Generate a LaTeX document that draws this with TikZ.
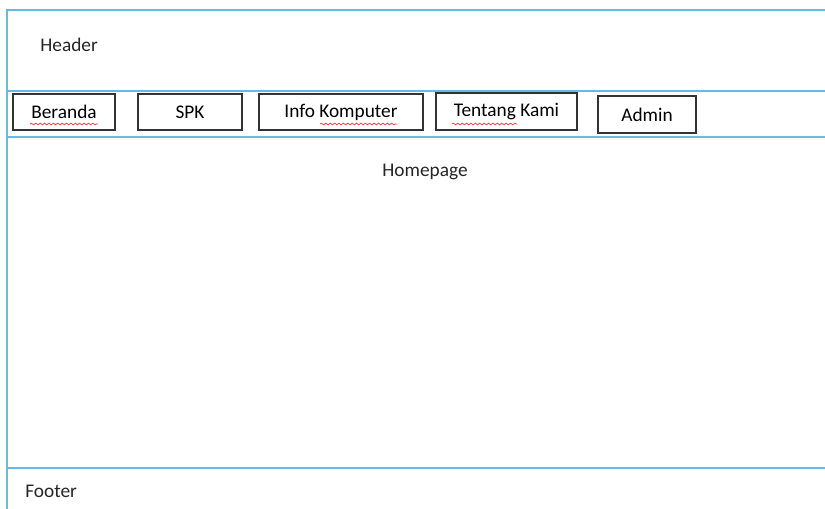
\documentclass[tikz,border=0pt]{standalone}
\usepackage{fontspec}
\setmainfont{Carlito}
\usepackage{tikz}
\usetikzlibrary{positioning, decorations.pathmorphing}

\definecolor{ruleblue}{RGB}{105,185,230}

\begin{document}
\begin{tikzpicture}[
    x=0.02cm, y=-0.02cm,
    frame/.style={draw=ruleblue, line width=0.6pt},
    navbox/.style={rectangle, draw=black!80, line width=0.9pt, minimum height=0.72cm, inner sep=0pt, font=\fontsize{11}{13}\selectfont},
    label/.style={font=\fontsize{11}{13}\selectfont, text=black!85, inner sep=0pt},
    squiggle/.style={draw=red!80, line width=0.4pt, decorate, decoration={snake, amplitude=0.5pt, segment length=2.5pt}}
]
\useasboundingbox[fill=white] (0,0) rectangle (825,509);

% page frame
\coordinate (tl) at (7,10);
\coordinate (bl) at (7,509);
\draw[frame] (825,10) -- (tl) -- (bl);
\draw[frame] (7,91) -- (825,91);
\draw[frame] (7,137) -- (825,137);
\draw[frame] (7,468) -- (825,468);

% header and menu
\node[label, anchor=west] (header) at (40,45) {Header};

\node[navbox, minimum width=2.04cm] (beranda) at (64,112) {Beranda};
\node[navbox, minimum width=2.08cm] (spk) at (190,112) {SPK};
\node[navbox, minimum width=3.28cm] (info) at (341,112) {Info Komputer};
\node[navbox, minimum width=2.82cm, minimum height=0.74cm] (tentang) at (506.5,111.5) {Tentang Kami};
\node[navbox, minimum width=1.96cm, minimum height=0.74cm] (admin) at (647,114.5) {Admin};

% spell check marks
\draw[squiggle] (30,124) -- (98,124);
\draw[squiggle] (320,124) -- (397,124);
\draw[squiggle] (452,124) -- (517,124);

% content
\node[label] (homepage) at (425,172) {Homepage};
\node[label, anchor=west] (footer) at (25,491) {Footer};

\end{tikzpicture}
\end{document}
